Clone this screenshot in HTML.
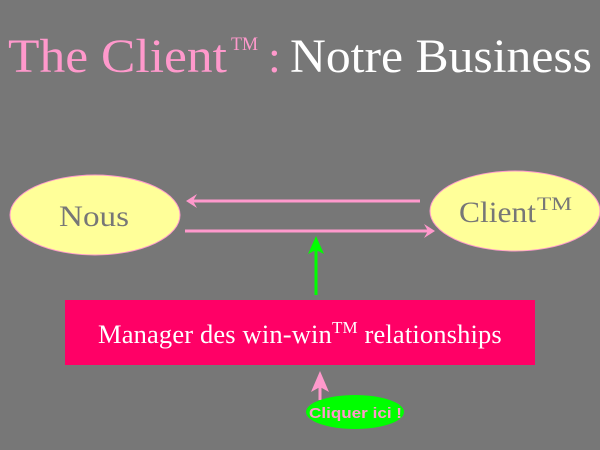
<!DOCTYPE html>
<html><head><meta charset="utf-8"><style>html,body{margin:0;padding:0;background:#777777;}</style></head>
<body>
<svg width="600" height="450" xmlns="http://www.w3.org/2000/svg" style="display:block">
<rect width="600" height="450" fill="#777777"/>
<text x="8" y="72" font-family="Liberation Serif, serif" font-size="48" fill="#ff99cc" textLength="219" lengthAdjust="spacingAndGlyphs">The Client</text>
<text x="231" y="50" font-family="Liberation Serif, serif" font-size="19" fill="#ff99cc" textLength="27" lengthAdjust="spacingAndGlyphs">TM</text>
<text x="268" y="72" font-family="Liberation Serif, serif" font-size="46" fill="#ff99cc">:</text>
<text x="290" y="72" font-family="Liberation Serif, serif" font-size="48" fill="#ffffff" textLength="302" lengthAdjust="spacingAndGlyphs">Notre Business</text>
<ellipse cx="95" cy="215" rx="85" ry="40" fill="#ffff99" stroke="#ff99cc" stroke-width="1"/>
<text x="59" y="226" font-family="Liberation Serif, serif" font-size="30" fill="#777777" textLength="70" lengthAdjust="spacingAndGlyphs">Nous</text>
<ellipse cx="515" cy="211" rx="85" ry="40" fill="#ffff99" stroke="#ff99cc" stroke-width="1"/>
<text x="459" y="222" font-family="Liberation Serif, serif" font-size="30" fill="#777777" textLength="77" lengthAdjust="spacingAndGlyphs">Client</text>
<text x="537" y="210" font-family="Liberation Serif, serif" font-size="19" fill="#777777" textLength="35" lengthAdjust="spacingAndGlyphs">TM</text>
<line x1="420" y1="201" x2="190" y2="201" stroke="#ff99cc" stroke-width="3"/>
<path d="M186 201 L197 194 L193 201 L197 208 Z" fill="#ff99cc"/>
<line x1="185" y1="231" x2="430" y2="231" stroke="#ff99cc" stroke-width="3"/>
<path d="M435 231 L424 224 L428 231 L424 238 Z" fill="#ff99cc"/>
<line x1="316" y1="295" x2="316" y2="245" stroke="#00ff00" stroke-width="3"/>
<path d="M316 236 L308 254 L316 250 L324 254 Z" fill="#00ff00"/>
<rect x="65" y="300" width="470" height="65" fill="#ff0066"/>
<text x="98" y="343" font-family="Liberation Serif, serif" font-size="26.5" letter-spacing="0.15" fill="#ffffff">Manager des win-win<tspan font-size="17" dy="-10">TM</tspan><tspan dy="10"> relationships</tspan></text>
<line x1="320" y1="400" x2="320" y2="380" stroke="#ff99cc" stroke-width="3"/>
<path d="M320 371 L311 392 L320 387 L329 392 Z" fill="#ff99cc"/>
<ellipse cx="355" cy="412" rx="49" ry="17" fill="#00ff00"/>
<text x="309" y="418" font-family="Liberation Sans, sans-serif" font-weight="bold" font-size="15" fill="#ff99cc" textLength="93" lengthAdjust="spacingAndGlyphs">Cliquer ici !</text>
</svg>
</body></html>
